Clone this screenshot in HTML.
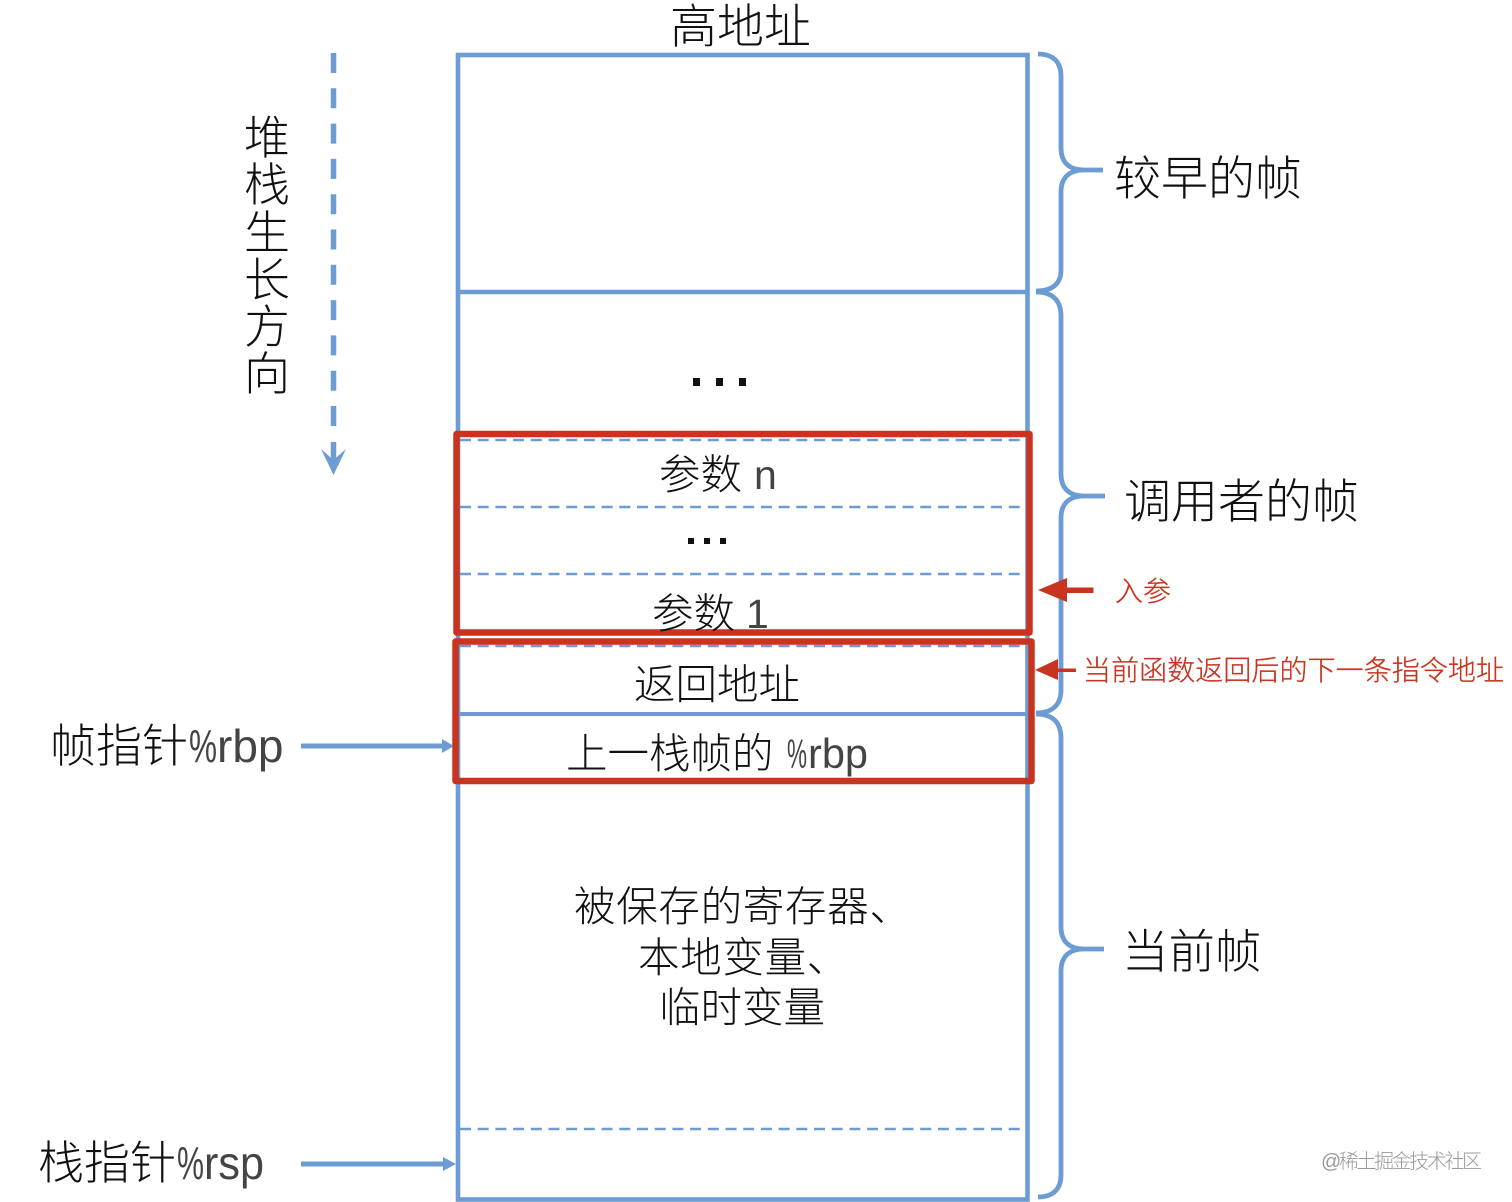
<!DOCTYPE html>
<html>
<head>
<meta charset="utf-8">
<style>
html,body{margin:0;padding:0;background:#fff;width:1512px;height:1202px;overflow:hidden}
svg{display:block}
text{font-family:"Liberation Sans","Noto Sans CJK SC",sans-serif;fill:#111;font-weight:300}
.lat{fill:#444}
.red{fill:#c8341f;stroke:#c8341f;stroke-width:.3px}
</style>
</head>
<body>
<svg width="1512" height="1202" viewBox="0 0 1512 1202" xmlns="http://www.w3.org/2000/svg">
<rect width="1512" height="1202" fill="#fff"/>
<g fill="none" stroke="#6c9cd3">
  <rect x="458" y="55" width="569.500" height="1144.500" stroke-width="4.600"/>
  <line x1="458" y1="292" x2="1027" y2="292" stroke-width="4.500"/>
  <line x1="458" y1="714" x2="1027" y2="714" stroke-width="4"/>
  <g stroke-width="2.500" stroke-dasharray="11 6.700">
    <line x1="460" y1="440" x2="1026" y2="440"/>
    <line x1="460" y1="507" x2="1026" y2="507"/>
    <line x1="460" y1="574" x2="1026" y2="574"/>
    <line x1="460" y1="646" x2="1026" y2="646"/>
    <line x1="460" y1="1129" x2="1026" y2="1129"/>
  </g>
  <g stroke-width="4.800">
    <path d="M1038 54 C1052 54 1061 61 1061 76 V148 C1061 163 1070 170 1084 170 H1103 M1084 170 C1070 170 1061 177 1061 192 V270 C1061 284 1052 291 1036 291"/>
    <path d="M1036 292 C1052 292 1061 300 1061 316 V474 C1061 489 1070 496 1084 496 H1105 M1084 496 C1070 496 1061 503 1061 518 V690 C1061 705 1052 713 1036 713"/>
    <path d="M1036 714 C1052 714 1061 722 1061 738 V927 C1061 942 1070 949 1084 949 H1104 M1084 949 C1070 949 1061 956 1061 971 V1175 C1061 1190 1052 1197 1038 1197"/>
  </g>
  <line x1="333.500" y1="53" x2="333.500" y2="427" stroke-width="5.500" stroke-dasharray="20 15.300"/>
  <line x1="333.500" y1="442" x2="333.500" y2="462" stroke-width="5.500"/>
  <line x1="301" y1="746" x2="445" y2="746" stroke-width="5"/>
  <line x1="301" y1="1164" x2="445" y2="1164" stroke-width="5"/>
</g>
<g fill="#6c9cd3">
  <path d="M321 449 L333.500 475 L346 449 L333.500 460 Z"/>
  <polygon points="442,739 454,746 442,753"/>
  <polygon points="443,1157 456,1164 443,1171"/>
</g>
<g fill="none" stroke="#c8341f" stroke-width="6.500" stroke-linejoin="round">
  <rect x="456.500" y="434" width="573" height="198.500"/>
  <rect x="455.500" y="641.500" width="576" height="139.500"/>
</g>
<g fill="#c8341f">
  <polygon points="1038,590 1067,578 1067,602"/>
  <rect x="1064" y="587.500" width="29.500" height="5.500"/>
  <polygon points="1035,670 1058,659 1058,680"/>
  <rect x="1056" y="668.500" width="20" height="3.500"/>
</g>
<g fill="#111">
  <rect x="693" y="378" width="7" height="8"/>
  <rect x="716" y="378" width="7" height="8"/>
  <rect x="739" y="378" width="7" height="8"/>
  <rect x="688" y="538" width="6" height="6"/>
  <rect x="704" y="538" width="6" height="6"/>
  <rect x="720" y="538" width="6" height="6"/>
</g>
<text x="670" y="43" font-size="47">高地址</text>
<text x="1114" y="195" font-size="47">较早的帧</text>
<text x="1124" y="518" font-size="47">调用者的帧</text>
<text x="1122" y="968" font-size="46.500">当前帧</text>
<g font-size="46" text-anchor="middle">
  <text x="267" y="154">堆</text>
  <text x="267" y="201">栈</text>
  <text x="267" y="249">生</text>
  <text x="267" y="296">长</text>
  <text x="267" y="343">方</text>
  <text x="267" y="390">向</text>
</g>
<text x="50" y="762" font-size="46">帧指针</text>
<text x="189" y="762" font-size="46" textLength="28" lengthAdjust="spacingAndGlyphs" class="lat">%</text>
<text x="217" y="762" font-size="46" class="lat">rbp</text>
<text x="38" y="1179" font-size="46">栈指针</text>
<text x="177" y="1179" font-size="46" textLength="27" lengthAdjust="spacingAndGlyphs" class="lat">%</text>
<text x="204" y="1179" font-size="46" textLength="60" lengthAdjust="spacingAndGlyphs" class="lat">rsp</text>
<text x="659" y="489" font-size="41.500">参数</text>
<text x="754" y="489" font-size="41" class="lat">n</text>
<text x="652" y="628" font-size="41.500">参数</text>
<text x="746" y="628" font-size="41" class="lat">1</text>
<text x="634" y="699" font-size="41.500">返回地址</text>
<text x="566" y="768" font-size="41.500">上一栈帧的</text>
<text x="787" y="768" font-size="41" textLength="20" lengthAdjust="spacingAndGlyphs" class="lat">%</text>
<text x="808" y="768" font-size="41.500" class="lat">rbp</text>
<text x="574" y="921" font-size="41.500" letter-spacing="0.7">被保存的寄存器、</text>
<text x="638" y="972" font-size="41.500" letter-spacing="0.7">本地变量、</text>
<text x="659" y="1022" font-size="41.500">临时变量</text>
<text x="1115" y="601" font-size="28" class="red">入参</text>
<text x="1083" y="680" font-size="28" textLength="421" lengthAdjust="spacing" class="red">当前函数返回后的下一条指令地址</text>
<text x="1321" y="1168" font-size="20" textLength="161" lengthAdjust="spacing" style="fill:#9a9a9a">@稀土掘金技术社区</text>
</svg>
</body>
</html>
